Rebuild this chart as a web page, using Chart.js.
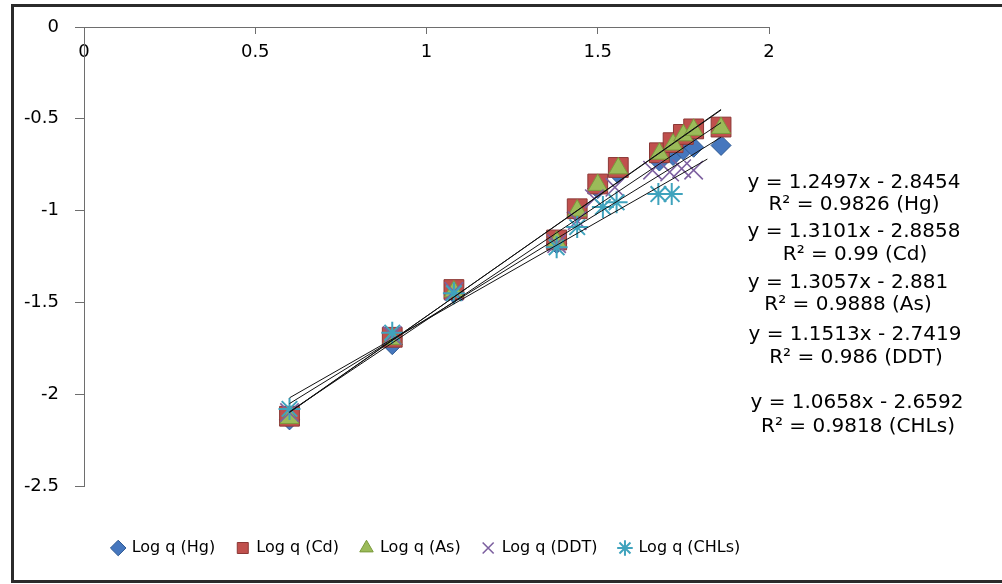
<!DOCTYPE html>
<html>
<head>
<meta charset="utf-8">
<script src="https://cdn.jsdelivr.net/npm/chart.js@4.4.0/dist/chart.umd.min.js"></script>
<style>
  html, body { margin: 0; padding: 0; background: #fff; }
</style>
</head>
<body>
<canvas id="isoChart" width="1002" height="584"></canvas>
<script>
// log Ce (x) and log q (y) for each pollutant
const seriesNames = ["Log q (Hg)", "Log q (Cd)", "Log q (As)", "Log q (DDT)", "Log q (CHLs)"];
const tags = ["Hg", "Cd", "As", "DDT", "CHLs"];

const hgX = [0.6, 0.9, 1.08, 1.38, 1.44, 1.5, 1.56, 1.68, 1.72, 1.75, 1.78, 1.86];
const hgY = [-2.14, -1.73, -1.45, -1.18, -1.01, -0.88, -0.80, -0.73, -0.70, -0.67, -0.655, -0.645];

const cdX = [0.6, 0.9, 1.08, 1.38, 1.44, 1.5, 1.56, 1.68, 1.72, 1.75, 1.78, 1.86];
const cdY = [-2.12, -1.69, -1.43, -1.16, -0.99, -0.855, -0.765, -0.685, -0.63, -0.585, -0.555, -0.545];

const asX = [0.6, 0.9, 1.08, 1.38, 1.44, 1.5, 1.56, 1.68, 1.72, 1.75, 1.78, 1.86];
const asY = [-2.13, -1.70, -1.44, -1.17, -1.00, -0.86, -0.77, -0.69, -0.64, -0.59, -0.56, -0.55];

const ddtX = [0.6, 0.9, 1.08, 1.38, 1.44, 1.49, 1.55, 1.66, 1.71, 1.745, 1.78];
const ddtY = [-2.10, -1.68, -1.44, -1.18, -1.055, -0.935, -0.873, -0.78, -0.79, -0.772, -0.78];

const chlX = [0.6, 0.9, 1.08, 1.38, 1.44, 1.515, 1.555, 1.677, 1.716];
const chlY = [-2.08, -1.665, -1.45, -1.20, -1.09, -0.98, -0.955, -0.91, -0.91];

// linear trendlines as printed on the chart
const slopes = [1.2497, 1.3101, 1.3057, 1.1513, 1.0658];
const intercepts = [-2.8454, -2.8858, -2.881, -2.7419, -2.6592];
const rSquared = ["0.9826", "0.99", "0.9888", "0.986", "0.9818"];
const trendFrom = [0.6, 0.6, 0.6, 0.6, 0.6];
const trendTo = [1.86, 1.86, 1.86, 1.86, 1.82];

const xTicks = [0, 0.5, 1, 1.5, 2];
const yTicks = [0, -0.5, -1, -1.5, -2, -2.5];

const xs = [hgX, cdX, asX, ddtX, chlX];
const ys = [hgY, cdY, asY, ddtY, chlY];

const pts = (ax, ay) => ax.map((v, i) => ({ x: v, y: ay[i] }));

const looks = [
  { pointStyle: "rectRot", pointRadius: 10, backgroundColor: "#4677BE", borderColor: "#2F5A93", borderWidth: 1 },
  { pointStyle: "rect", pointRadius: 14, backgroundColor: "#C0504D", borderColor: "#8C3836", borderWidth: 1 },
  { pointStyle: "triangle", pointRadius: 11, backgroundColor: "#9BBB59", borderColor: "#7A9A3C", borderWidth: 1 },
  { pointStyle: "crossRot", pointRadius: 13, backgroundColor: "#7D60A0", borderColor: "#7D60A0", borderWidth: 1.6 },
  { pointStyle: "star", pointRadius: 11, backgroundColor: "#3FA3BD", borderColor: "#3FA3BD", borderWidth: 2 }
];

const datasets = [];
seriesNames.forEach((name, i) => {
  datasets.push(Object.assign({
    type: "scatter",
    label: name,
    data: pts(xs[i], ys[i]),
    pointHoverRadius: looks[i].pointRadius,
    order: 5 - i
  }, looks[i]));
});
slopes.forEach((m, i) => {
  datasets.push({
    type: "line",
    label: "Linear (" + tags[i] + ")",
    data: [trendFrom[i], trendTo[i]].map(v => ({ x: v, y: m * v + intercepts[i] })),
    borderColor: "#111",
    borderWidth: 1,
    pointRadius: 0,
    fill: false,
    order: 0
  });
});

const FONT = "'DejaVu Sans', 'Liberation Sans', sans-serif";

const framePlugin = {
  id: "frame",
  beforeDraw(chart) {
    const c = chart.ctx;
    c.save();
    c.fillStyle = "#fff";
    c.fillRect(0, 0, chart.width, chart.height);
    c.lineWidth = 3;
    c.strokeStyle = "#2b2b2b";
    c.strokeRect(12.5, 5.5, 1000, 576);
    c.restore();
  }
};

// equation labels, placed to the right of the plot like the Excel trendline labels
const eqPos = [[854, 183, 854, 205], [854, 232, 855, 255], [848, 283, 848, 305], [855, 335, 856, 358], [857, 403, 858, 427]];
const equationPlugin = {
  id: "equations",
  afterDraw(chart) {
    const c = chart.ctx;
    c.save();
    c.font = "20px " + FONT;
    c.fillStyle = "#000";
    c.textAlign = "center";
    c.textBaseline = "middle";
    slopes.forEach((m, i) => {
      const p = eqPos[i];
      c.fillText("y = " + m + "x - " + Math.abs(intercepts[i]), p[0], p[1]);
      c.fillText("R\u00B2 = " + rSquared[i] + " (" + tags[i] + ")", p[2], p[3]);
    });
    c.restore();
  }
};

new Chart(document.getElementById("isoChart"), {
  type: "scatter",
  data: { datasets: datasets },
  options: {
    responsive: false,
    animation: false,
    layout: { padding: { left: 0, top: 27, right: 233, bottom: 18 } },
    scales: {
      x: {
        type: "linear",
        min: 0,
        max: 2,
        position: { y: 0 },
        afterBuildTicks: s => { s.ticks = xTicks.map(v => ({ value: v })); },
        afterFit: s => { s.height = 0; },
        ticks: { color: "#000", font: { family: FONT, size: 18 }, padding: 9, callback: v => String(v) },
        grid: { drawOnChartArea: false, drawTicks: true, tickLength: 6, color: "#6e6e6e" },
        border: { display: true, color: "#6e6e6e" }
      },
      y: {
        type: "linear",
        min: -2.5,
        max: 0,
        position: "left",
        afterBuildTicks: s => { s.ticks = yTicks.map(v => ({ value: v })); },
        afterFit: s => { s.width = 84; },
        ticks: { color: "#000", font: { family: FONT, size: 18 }, padding: 16, callback: v => String(v) },
        grid: { drawOnChartArea: false, drawTicks: true, tickLength: 9, color: "#6e6e6e" },
        border: { display: true, color: "#6e6e6e" }
      }
    },
    plugins: {
      tooltip: { enabled: false },
      legend: {
        position: "bottom",
        fullSize: false,
        title: { display: true, text: "", font: { size: 10 }, padding: { top: 0, bottom: 20 } },
        labels: {
          usePointStyle: true,
          boxHeight: 11,
          boxWidth: 11,
          padding: 22,
          color: "#000",
          font: { family: FONT, size: 16 },
          filter: item => item.datasetIndex < seriesNames.length,
          sort: (a, b) => a.datasetIndex - b.datasetIndex
        }
      }
    }
  },
  plugins: [framePlugin, equationPlugin]
});
</script>
</body>
</html>
